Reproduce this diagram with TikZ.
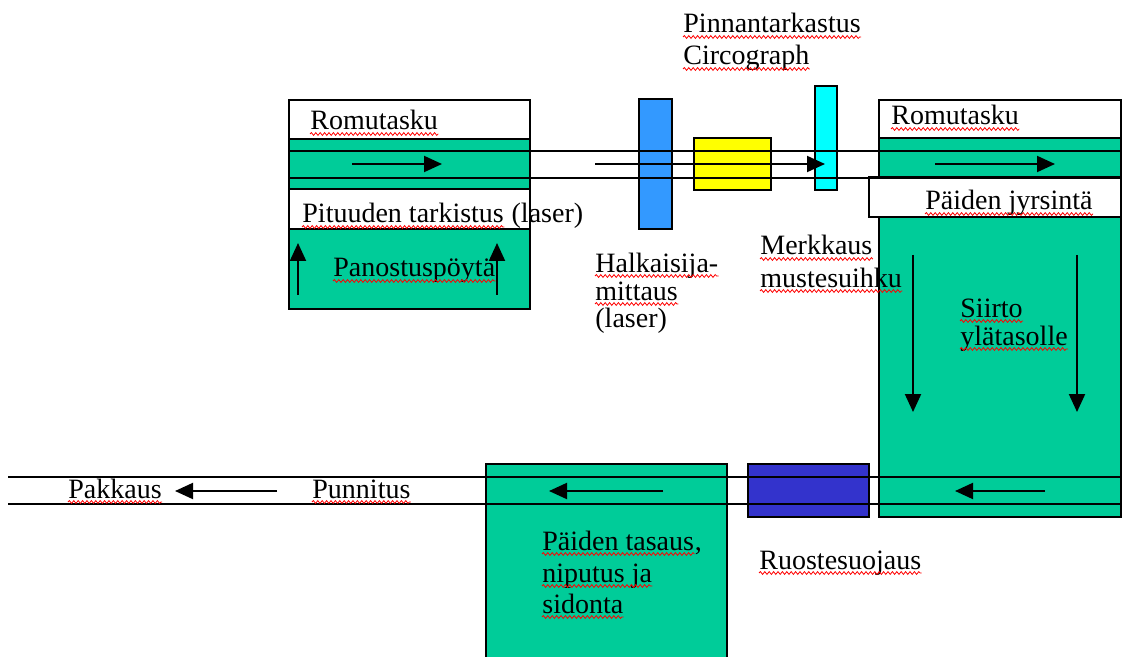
\documentclass[tikz,border=0pt]{standalone}
\usepackage{fontspec}
\setmainfont{Liberation Serif}
\usetikzlibrary{arrows.meta,decorations.pathmorphing}

\definecolor{linja}{RGB}{0,204,153}
\definecolor{mittari}{RGB}{51,153,255}
\definecolor{kamera}{RGB}{255,255,0}
\definecolor{merkki}{RGB}{0,255,255}
\definecolor{suoja}{RGB}{51,51,204}

\tikzset{
  box/.style={draw,line width=0.75pt},
  rail/.style={line width=0.75pt},
  flow/.style={line width=1pt,-{Triangle[length=9pt,width=8pt]}},
  txt/.style={anchor=base west,inner sep=0pt,font=\fontsize{14}{16}\selectfont},
  wavy/.style={red,line width=0.4pt,decorate,decoration={snake,amplitude=0.7pt,segment length=2.2pt}}
}

\begin{document}
\begin{tikzpicture}[x=0.5pt,y=-0.5pt]
\useasboundingbox (0,0) rectangle (1122,657);

% romutasku ja panostuspoyta
\draw[box,fill=white] (289,100) rectangle (530,139);
\draw[box,fill=linja] (289,139) rectangle (530,189);
\draw[box,fill=white] (289,189) rectangle (530,229);
\draw[box,fill=linja] (289,229) rectangle (530,309);

% mittaukset
\draw[box,fill=mittari] (639,99) rectangle (672,229);
\draw[box,fill=kamera] (694,138) rectangle (771,190);
\draw[box,fill=merkki] (815,86) rectangle (837,190);

% jyrsinta ja siirto
\draw[box,fill=white] (879,100) rectangle (1121,138);
\draw[box,fill=linja] (879,138) rectangle (1121,177);
\draw[box,fill=white] (869,177) rectangle (1121,217);
\draw[box,fill=linja] (879,217) rectangle (1121,517);

% alataso
\draw[box,fill=suoja] (748,464) rectangle (869,517);
\fill[linja] (486,464) rectangle (727,657);
\draw[box] (486,657) |- (727,464) -- (727,657);

% radat
\draw[rail] (289,151) -- (1121,151);
\draw[rail] (289,178) -- (1121,178);
\draw[rail] (8,477) -- (1121,477);
\draw[rail] (8,504) -- (1121,504);

\draw[flow] (352,164) -- (442,164);
\draw[flow] (298,295) -- (298,243);
\draw[flow] (497,295) -- (497,243);
\draw[flow] (595,164) -- (825,164);
\draw[flow] (935,164) -- (1055,164);
\draw[flow] (913,255) -- (913,412);
\draw[flow] (1077,255) -- (1077,412);
\draw[flow] (1045,491) -- (955,491);
\draw[flow] (663,491) -- (549,491);
\draw[flow] (277,491) -- (175,491);

\node[txt] (romu1) at (310,130) {Romutasku};
\node[txt] (pit) at (302,223) {Pituuden tarkistus};
\node[txt] (pitl) at ([xshift=3.5pt]pit.base east) {(laser)};
\node[txt] (pan) at (333,277) {Panostuspöytä};
\node[txt] (pin) at (683,33) {Pinnantarkastus};
\node[txt] (cir) at (683,65) {Circograph};
\node[txt] (hal) at (595,272) {Halkaisija-};
\node[txt] (mit) at (595,300) {mittaus};
\node[txt] (las) at (595,328) {(laser)};
\node[txt] (mer) at (760,255) {Merkkaus};
\node[txt] (mus) at (760,287) {mustesuihku};
\node[txt] (romu2) at (891,125) {Romutasku};
\node[txt] (jyr) at (925,210) {Päiden jyrsintä};
\node[txt] (sii) at (960,317) {Siirto};
\node[txt] (yla) at (960,345) {ylätasolle};
\node[txt] (pak) at (68,498) {Pakkaus};
\node[txt] (pun) at (312,498) {Punnitus};
\node[txt] (tas) at (542,550) {Päiden tasaus};
\node[txt] (tasc) at (tas.base east) {,};
\node[txt] (nip) at (542,582) {niputus ja};
\node[txt] (sid) at (542,613) {sidonta};
\node[txt] (ruo) at (759,569) {Ruostesuojaus};

\foreach \n in {romu1,pit,pan,pin,cir,hal,mit,mer,mus,romu2,jyr,sii,yla,pak,pun,tas,nip,sid,ruo}
  \draw[wavy] ([yshift=-2pt]\n.base west) -- ([yshift=-2pt]\n.base east);
\end{tikzpicture}
\end{document}
